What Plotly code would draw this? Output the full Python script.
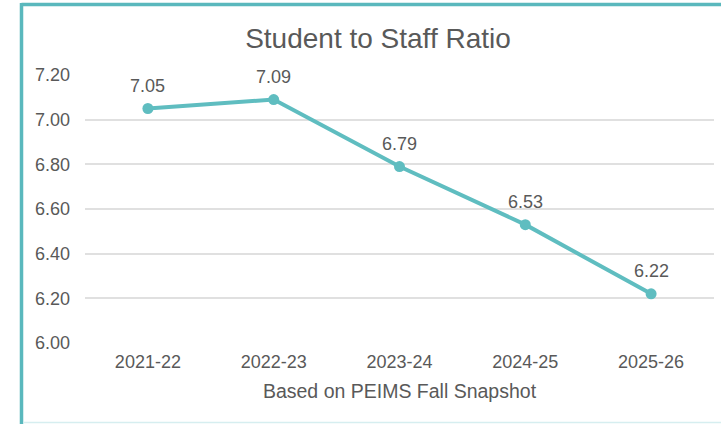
import plotly.graph_objects as go

categories = ["2021-22", "2022-23", "2023-24", "2024-25", "2025-26"]
ratios = [7.05, 7.09, 6.79, 6.53, 6.22]
y_ticks = [6.0, 6.2, 6.4, 6.6, 6.8, 7.0, 7.2]
y_tick_labels = ["6.00", "6.20", "6.40", "6.60", "6.80", "7.00", "7.20"]

TEAL = "#5FBDC0"
GRAY = "#595959"
FONT = "Liberation Sans, Arial, sans-serif"

W, H = 721, 424
L, R, T, B = 85, 7, 75, 81

fig = go.Figure()
fig.add_trace(go.Scatter(
    x=categories, y=ratios, mode="lines+markers",
    line=dict(color=TEAL, width=4),
    marker=dict(color=TEAL, size=11),
    hoverinfo="skip",
))

for c, v in zip(categories, ratios):
    fig.add_annotation(x=c, y=v, text=f"{v:.2f}", showarrow=False,
                       yshift=23, font=dict(family=FONT, size=18, color=GRAY))

pw = W - L - R
ph = H - T - B
def px_x(p):
    return (p - L) / pw
def px_y(p):
    return (H - B - p) / ph

# border of the chart box
fig.add_shape(type="line", xref="paper", yref="paper",
              x0=px_x(21.5), x1=px_x(730), y0=px_y(4.5), y1=px_y(4.5),
              line=dict(color="#5AB8BD", width=3.5))
fig.add_shape(type="line", xref="paper", yref="paper",
              x0=px_x(21.5), x1=px_x(21.5), y0=px_y(3), y1=px_y(430),
              line=dict(color="#5AB8BD", width=3.5))
fig.add_shape(type="line", xref="paper", yref="paper",
              x0=px_x(23), x1=px_x(730), y0=px_y(422.5), y1=px_y(422.5),
              line=dict(color="#D6EEF0", width=1.5))

fig.update_layout(
    width=W, height=H,
    margin=dict(l=L, r=R, t=T, b=B),
    paper_bgcolor="white", plot_bgcolor="white",
    showlegend=False,
    title=dict(text="Student to Staff Ratio", x=378 / W, xanchor="center",
               y=1 - 38 / H, yanchor="middle",
               font=dict(family=FONT, size=28, color=GRAY)),
    xaxis=dict(
        type="category", showgrid=False, zeroline=False, showline=False,
        ticks="", tickfont=dict(family=FONT, size=18, color=GRAY),
        ticklabelstandoff=6,
        title=dict(text="Based on PEIMS Fall Snapshot", standoff=13,
                   font=dict(family=FONT, size=19.5, color=GRAY)),
        range=[-0.5, 4.5],
    ),
    yaxis=dict(
        range=[6.0, 7.2], tickvals=y_ticks, ticktext=y_tick_labels,
        showgrid=True, gridcolor="#E0E0E0", gridwidth=1.5,
        zeroline=False, showline=False, ticks="",
        tickfont=dict(family=FONT, size=18, color=GRAY),
        ticklabelstandoff=14,
    ),
)

fig.write_html("out.html", config={"displayModeBar": False},
               post_script="document.body.style.margin='0';document.body.style.overflow='hidden';")
